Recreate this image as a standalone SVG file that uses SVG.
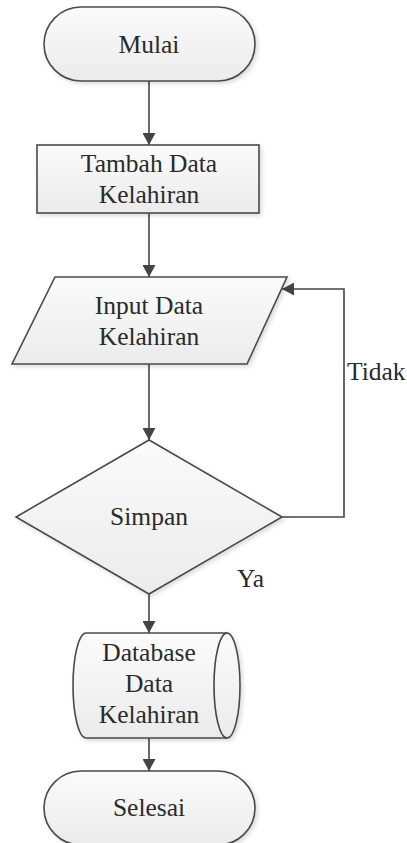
<svg xmlns="http://www.w3.org/2000/svg" width="407" height="843" viewBox="0 0 407 843">
<style>
.s{fill:url(#g);stroke:#4a4a4a;stroke-width:1.6;filter:url(#sh)}
.t{font-family:"Liberation Serif","Times New Roman",serif;font-size:25.5px;fill:#2a2a2a;text-anchor:middle}
.l{text-anchor:start}
.c{fill:none;stroke:#444;stroke-width:1.6}
</style>
<defs>
<linearGradient id="g" x1="0" y1="0" x2="0" y2="1">
<stop offset="0" stop-color="#fbfbfb"/>
<stop offset="1" stop-color="#ebebeb"/>
</linearGradient>
<filter id="sh" x="-10%" y="-10%" width="130%" height="130%">
<feDropShadow dx="2" dy="2" stdDeviation="2" flood-color="#000" flood-opacity="0.15"/>
</filter>
<marker id="a" markerWidth="13" markerHeight="13" refX="12" refY="6.5" orient="auto" markerUnits="userSpaceOnUse">
<path d="M0,0 L12,6.5 L0,13 Z" fill="#444"/>
</marker>
</defs>
<rect width="407" height="843" fill="#fff"/>
<g id="connectors">
<line class="c" x1="149" y1="81" x2="149" y2="145" marker-end="url(#a)"/>
<line class="c" x1="149" y1="213" x2="149" y2="277" marker-end="url(#a)"/>
<line class="c" x1="149" y1="364" x2="149" y2="440" marker-end="url(#a)"/>
<polyline class="c" points="282,517 344,517 344,289 282,289" marker-end="url(#a)"/>
<line class="c" x1="149" y1="594" x2="149" y2="633" marker-end="url(#a)"/>
<line class="c" x1="149" y1="738" x2="149" y2="771" marker-end="url(#a)"/>
<text class="t l" x="347" y="380">Tidak</text>
<text class="t l" x="237" y="587">Ya</text>
</g>
<g id="mulai">
<rect class="s" x="44" y="7" width="211" height="74" rx="37" ry="37"/>
<text class="t" x="149" y="53">Mulai</text>
</g>
<g id="tambah">
<rect class="s" x="37" y="145" width="222" height="68"/>
<text class="t" x="149" y="172">Tambah Data</text>
<text class="t" x="149" y="203">Kelahiran</text>
</g>
<g id="input">
<polygon class="s" points="55,277 287,277 247,364 12,364"/>
<text class="t" x="149" y="314">Input Data</text>
<text class="t" x="149" y="345">Kelahiran</text>
</g>
<g id="simpan">
<polygon class="s" points="149,440 282,517 149,594 16,517"/>
<text class="t" x="149" y="525">Simpan</text>
</g>
<g id="database">
<path class="s" d="M86,633 L227,633 A13,52.5 0 0 1 227,738 L86,738 A13,52.5 0 0 1 86,633 Z"/>
<path class="c" d="M227,633 A13,52.5 0 0 0 227,738"/>
<text class="t" x="149" y="661">Database</text>
<text class="t" x="149" y="692">Data</text>
<text class="t" x="149" y="723">Kelahiran</text>
</g>
<g id="selesai">
<rect class="s" x="44" y="771" width="211" height="74" rx="37" ry="37"/>
<text class="t" x="149" y="816">Selesai</text>
</g>
</svg>
